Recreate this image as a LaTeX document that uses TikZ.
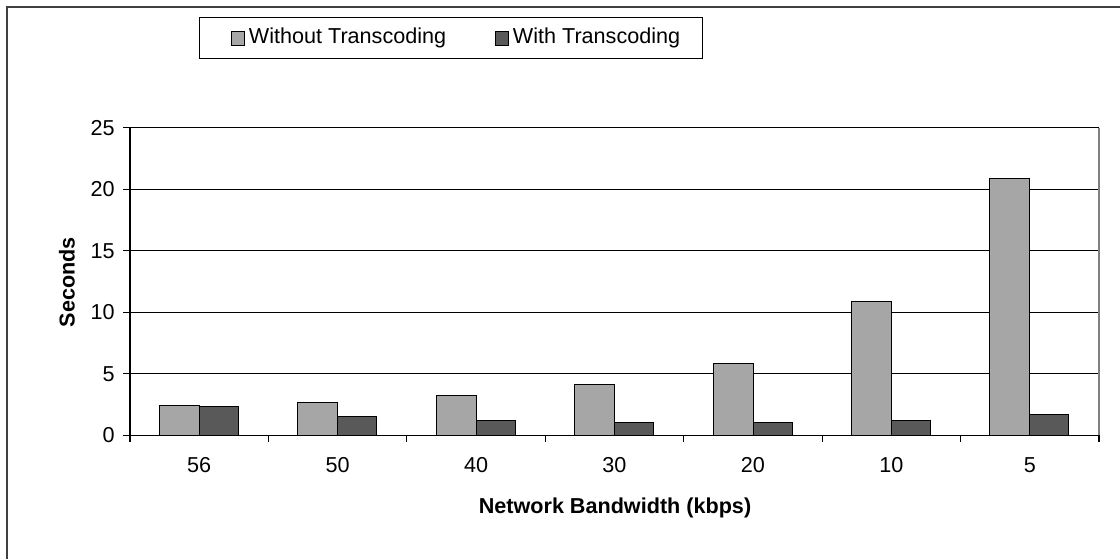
\documentclass[tikz,border=0pt]{standalone}
\usepackage{fontspec}
\setmainfont{Liberation Sans}
\usetikzlibrary{positioning}
\definecolor{lightbar}{RGB}{166,166,166}
\definecolor{darkbar}{RGB}{89,89,89}
\definecolor{framegray}{RGB}{64,64,64}

\begin{document}
\begin{tikzpicture}[x=0.5pt, y=-0.5pt,
  every node/.style={font=\fontsize{10.8}{12}\selectfont, inner sep=0pt},
  bar/.style={draw=black, line width=0.5pt},
  gridline/.style={draw=black, line width=0.6pt},
  axislabel/.style={font=\fontsize{10.8}{12}\selectfont\bfseries}]
  \useasboundingbox (0,0) rectangle (1120,559);

  % outer frame (only top and left are visible)
  \draw[framegray, line width=1pt] (6.5,559) -- (6.5,6.5) -- (1120,6.5);

  % gridlines and y ticks
  \foreach \v in {5,10,15,20,25}
    \draw[gridline] (123,{435.3-12.3*\v}) -- (1099,{435.3-12.3*\v});
  \foreach \v in {0,5,...,25}
    \node[anchor=east] (ylab\v) at (115,{435.3-12.3*\v}) {\v};
  \draw[gray, line width=0.6pt] (1099,127.6) -- (1099,435.3);

  % bars
  \foreach \k/\a/\b in {0/2.45/2.37, 1/2.67/1.52, 2/3.2/1.2, 3/4.13/1.06,
                         4/5.87/1.03, 5/10.9/1.22, 6/20.85/1.69} {
    \fill[lightbar] ({159.3+138.43*\k},435.3) rectangle ({199.3+138.43*\k},{435.3-12.3*\a});
    \draw[bar] ({159.3+138.43*\k},435.3) rectangle ({199.3+138.43*\k},{435.3-12.3*\a});
    \fill[darkbar] ({199.3+138.43*\k},435.3) rectangle ({238.3+138.43*\k},{435.3-12.3*\b});
    \draw[bar] ({199.3+138.43*\k},435.3) rectangle ({238.3+138.43*\k},{435.3-12.3*\b});
  }

  % axes
  \draw[gridline] (130,127.6) -- (130,441.5);
  \draw[gridline] (123,435.3) -- (1099,435.3);
  \foreach \k in {1,...,7}
    \draw[gridline] ({130+138.43*\k},435.3) -- ({130+138.43*\k},441.5);

  % category labels
  \foreach \k/\t in {0/56, 1/50, 2/40, 3/30, 4/20, 5/10, 6/5}
    \node (xlab\k) at ({199.2+138.43*\k},465) {\t};

  % axis titles
  \node[axislabel, rotate=90] (ytitle) at (67,282) {Seconds};
  \node[axislabel] (xtitle) at (615,508) {Network Bandwidth (kbps)};

  % legend
  \draw[black, line width=0.5pt] (199.3,17.3) rectangle (702,58.3);
  \draw[bar, fill=lightbar] (231,31.7) rectangle (244,45) coordinate (keyone);
  \node[anchor=west] (withoutlab) at (248.5,38.3) {Without Transcoding};
  \draw[bar, fill=darkbar] (495,31.7) rectangle (508,45) coordinate (keytwo);
  \node[anchor=west] (withlab) at (512.5,38.3) {With Transcoding};
\end{tikzpicture}
\end{document}
